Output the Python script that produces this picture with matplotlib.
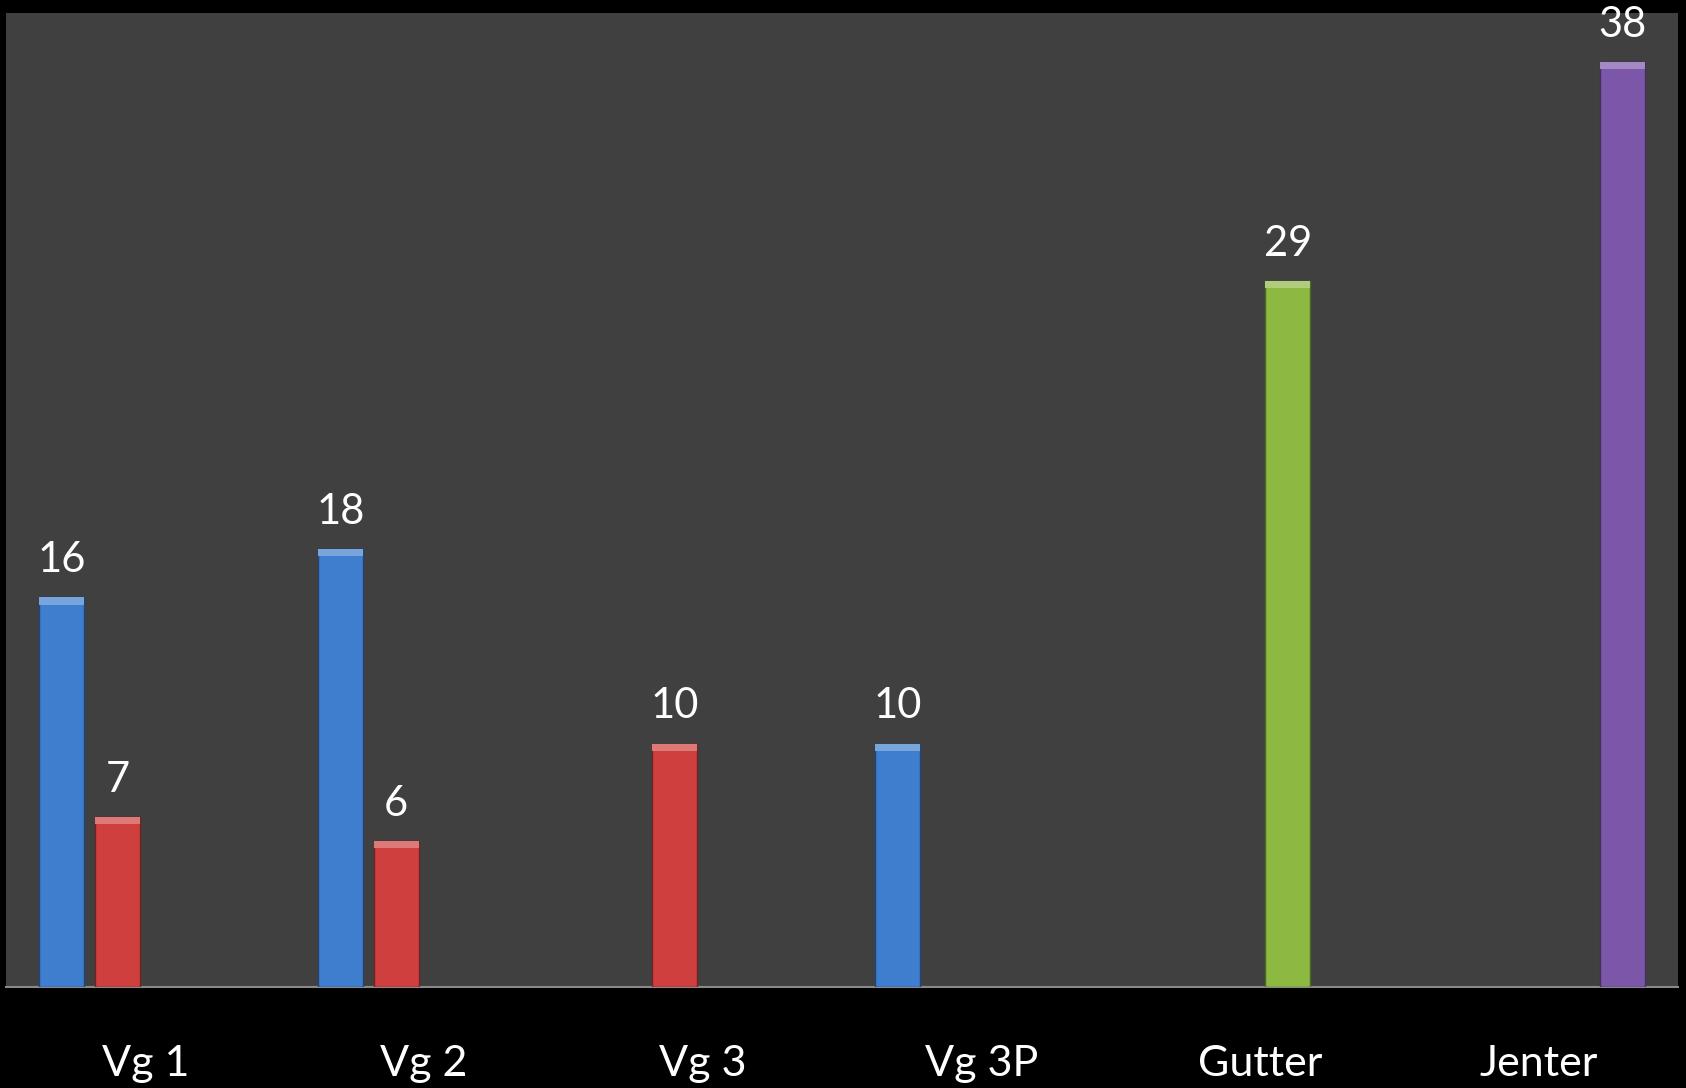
import numpy as np
import matplotlib
matplotlib.use("Agg")
from matplotlib import pyplot as plt
from matplotlib import colors as mcolors

# kategorier og verdier (nan = ingen stolpe)
categories = ["Vg 1", "Vg 2", "Vg 3", "Vg 3P", "Gutter", "Jenter"]
blue_vals = [16, 18, np.nan, 10, np.nan, np.nan]
red_vals = [7, 6, 10, np.nan, np.nan, np.nan]
green_vals = [np.nan, np.nan, np.nan, np.nan, 29, np.nan]
purple_vals = [np.nan, np.nan, np.nan, np.nan, np.nan, 38]

series = [
    (blue_vals, "#3F7ECE"),
    (red_vals, "#CF3F3D"),
    (green_vals, "#8DB842"),
    (purple_vals, "#7C57A9"),
]

plt.rcParams["font.family"] = ["Lato", "DejaVu Sans"]

fig = plt.figure(figsize=(16.86, 10.88), dpi=100, facecolor="black")
ax = fig.add_axes([6 / 1686, 101 / 1088, 1672 / 1686, 974 / 1088])
ax.set_facecolor("#404040")

x = np.arange(len(categories))
slot = 0.2
bar_w = 0.162


def shade(color, f):
    r, g, b = mcolors.to_rgb(color)
    if f > 1:
        return (r + (1 - r) * (f - 1), g + (1 - g) * (f - 1), b + (1 - b) * (f - 1))
    return (r * f, g * f, b * f)


for i, (vals, color) in enumerate(series):
    offset = (i - 1.5) * slot
    vals = np.array(vals, dtype=float)
    mask = ~np.isnan(vals)
    xs = x[mask] + offset
    bars = ax.bar(xs, vals[mask], width=bar_w, color=color,
                  edgecolor=shade(color, 0.55), linewidth=1.0, zorder=3)
    # lys kant øverst (bevel)
    ax.bar(xs, np.full(mask.sum(), 0.3), bottom=vals[mask] - 0.3, width=bar_w,
           color=shade(color, 1.3), linewidth=0, zorder=4)
    for b, v in zip(bars, vals[mask]):
        ax.annotate(f"{int(v)}", (b.get_x() + b.get_width() / 2, b.get_height()),
                    xytext=(0, 18), textcoords="offset points",
                    ha="center", va="baseline", color="white", fontsize=30)

ax.set_xlim(-0.5, len(categories) - 0.5)
ax.set_ylim(0, 40)
ax.set_xticks([])
ax.set_yticks([])
for side in ["left", "right", "top"]:
    ax.spines[side].set_visible(False)
ax.spines["bottom"].set_color("#8a8a8a")
ax.spines["bottom"].set_linewidth(1.5)

trans = ax.get_xaxis_transform()
for xi, label in zip(x, categories):
    ax.text(xi, -0.091, label, transform=trans, ha="center", va="baseline",
            color="white", fontsize=31)

fig.savefig("out.png", dpi=100, facecolor="black")
